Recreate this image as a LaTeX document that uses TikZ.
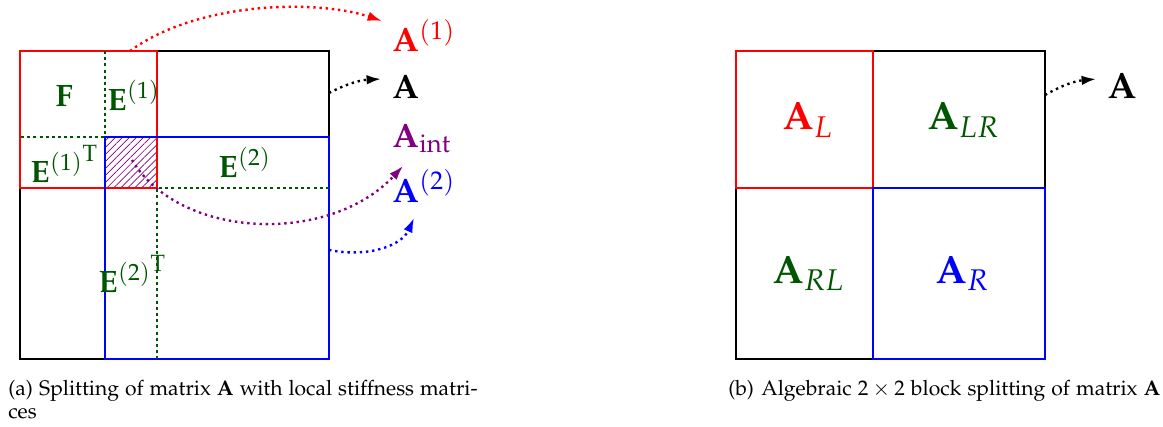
\documentclass[tikz,border=0pt]{standalone}
\usepackage[T1]{fontenc}
\usepackage{amsmath}
\usepackage[sc]{mathpazo}
\usepackage{tikz}
\usetikzlibrary{arrows.meta,patterns.meta}
\definecolor{splitRed}{RGB}{255,0,0}
\definecolor{splitBlue}{RGB}{0,0,255}
\definecolor{splitGreen}{RGB}{0,85,0}
\definecolor{splitPurple}{RGB}{128,0,128}
\tikzset{
  blockLine/.style={
    line width=1.3pt
  },
  coupleLine/.style={
    draw=splitGreen,
    line width=2.1pt,
    dash pattern=on 2.1pt off 2.3pt
  },
  mapArrow/.style={
    line width=1.7pt,
    dash pattern=on 1.7pt off 2.7pt,
    -{Latex[length=3.6mm,width=2.4mm]}
  },
  tagText/.style={
    inner sep=0pt,
    anchor=base west,
    font=\fontsize{#1}{#1}\selectfont
  },
  capText/.style={
    inner sep=0pt,
    anchor=north west,
    align=left,
    font=\fontsize{15}{16.4}\selectfont
  }
}

\begin{document}
\begin{tikzpicture}[x=0.025cm,y=-0.025cm]
  \useasboundingbox (0,0) rectangle (1163,427);
  % (a) splitting with local stiffness matrices
  \fill[pattern={Lines[angle=45,distance=3.5pt,line width=0.5pt]},pattern color=splitPurple] (105,137) rectangle (157,188);
  \draw[blockLine] (20,51) rectangle (329,359);
  \draw[blockLine,splitRed] (20,51) rectangle (157,188);
  \draw[blockLine,splitBlue] (105,137) rectangle (329,359);
  \draw[coupleLine] (105,51) -- (105,137) -- (20,137);
  \draw[coupleLine] (329,188) -- (157,188) -- (157,359);
  \node[tagText=22,text=splitGreen] (F) at (55,106) {$\mathbf{F}$};
  \node[tagText=22,text=splitGreen] (E1) at (107,110) {$\mathbf{E}^{(1)}$};
  \node[tagText=22,text=splitGreen] (E1T) at (30,182) {${\mathbf{E}^{(1)}}^{\mathrm{T}}$};
  \node[tagText=22,text=splitGreen] (E2) at (218,177) {$\mathbf{E}^{(2)}$};
  \node[tagText=22,text=splitGreen] (E2T) at (98,292) {${\mathbf{E}^{(2)}}^{\mathrm{T}}$};
  \node[tagText=24,text=splitRed] (A1) at (392,52) {$\mathbf{A}^{(1)}$};
  \node[tagText=24] (A) at (392,98) {$\mathbf{A}$};
  \node[tagText=24,text=splitPurple] (Aint) at (392,147) {$\mathbf{A}_{\mathrm{int}}$};
  \node[tagText=24,text=splitBlue] (A2) at (392,202) {$\mathbf{A}^{(2)}$};
  \coordinate (redFrom) at (130,51);
  \coordinate (redTo) at (382,21);
  \coordinate (blackFrom) at (329,93);
  \coordinate (blackTo) at (381,79);
  \coordinate (intFrom) at (132,160);
  \coordinate (intTo) at (403,166);
  \coordinate (blueFrom) at (329,250);
  \coordinate (blueTo) at (414,218);
  \draw[mapArrow,splitRed] (redFrom) .. controls (200,0) and (320,0) .. (redTo);
  \draw[mapArrow] (blackFrom) to[bend left=12] (blackTo);
  \draw[mapArrow,splitPurple] (intFrom) .. controls (180,240) and (330,245) .. (intTo);
  \draw[mapArrow,splitBlue] (blueFrom) .. controls (370,258) and (402,245) .. (blueTo);
  \node[capText] (capA) at (8,380) {\makebox[11.73cm][s]{(a)\hspace{0.3em}Splitting of matrix $\mathbf{A}$ with local stiffness matri-}\\ces};
  % (b) algebraic 2x2 block splitting
  \draw[blockLine] (736,51) rectangle (1045,359);
  \draw[blockLine,splitRed] (736,51) rectangle (873,188);
  \draw[blockLine,splitBlue] (873,188) rectangle (1045,359);
  \node[tagText=28,text=splitRed] (AL) at (782,130) {$\mathbf{A}_L$};
  \node[tagText=28,text=splitGreen] (ALR) at (927,130) {$\mathbf{A}_{LR}$};
  \node[tagText=28,text=splitGreen] (ARL) at (772,283) {$\mathbf{A}_{RL}$};
  \node[tagText=28,text=splitBlue] (AR) at (935,283) {$\mathbf{A}_R$};
  \node[tagText=26] (Ab) at (1107,99) {$\mathbf{A}$};
  \coordinate (blockFrom) at (1045,95);
  \coordinate (blockTo) at (1096,79);
  \draw[mapArrow] (blockFrom) to[bend left=12] (blockTo);
  \node[capText] (capB) at (728,380) {(b)\hspace{0.35em}Algebraic $2\times2$ block splitting of matrix $\mathbf{A}$};
\end{tikzpicture}
\end{document}
